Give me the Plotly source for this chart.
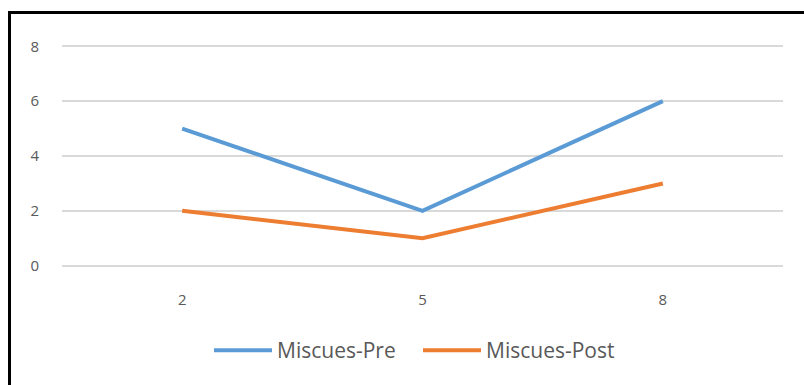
import plotly.graph_objects as go

# Data
categories = ["2", "5", "8"]
miscues_pre = [5, 2, 6]
miscues_post = [2, 1, 3]
y_ticks = [0, 2, 4, 6, 8]

W, H = 804, 385
# pixel positions of the value axis ends (y=0 and y=8) and the category band edges
Y0_PX, Y8_PX = 266, 46
X_LEFT, X_RIGHT = 62, 783
PAD = 0.12  # padding so the 0 and 8 gridlines are drawn

px_per_unit = (Y0_PX - Y8_PX) / 8.0
T = Y8_PX - PAD * px_per_unit
B = H - (Y0_PX + PAD * px_per_unit)
L, R = X_LEFT, W - X_RIGHT
plot_w = W - L - R
plot_h = H - T - B

fig = go.Figure()
fig.add_trace(go.Scatter(
    x=categories, y=miscues_pre, name="Miscues-Pre", mode="lines",
    line=dict(color="#5B9BD5", width=4),
))
fig.add_trace(go.Scatter(
    x=categories, y=miscues_post, name="Miscues-Post", mode="lines",
    line=dict(color="#ED7D31", width=4),
))

def px_x(p):
    return (p - L) / plot_w

def px_y(p):
    return (H - B - p) / plot_h

# Frame drawn on the left and top edges
fig.add_shape(type="line", xref="paper", yref="paper",
              x0=px_x(9.5), x1=px_x(9.5), y0=px_y(12), y1=px_y(H + 5),
              line=dict(color="black", width=3))
fig.add_shape(type="line", xref="paper", yref="paper",
              x0=px_x(8), x1=px_x(W + 5), y0=px_y(12), y1=px_y(12),
              line=dict(color="black", width=3))

fig.update_layout(
    width=W, height=H,
    margin=dict(l=L, r=R, t=T, b=B),
    paper_bgcolor="white", plot_bgcolor="white",
    font=dict(family="Open Sans, Noto Sans, sans-serif", size=15, color="#595959"),
    showlegend=True,
    legend=dict(orientation="h", x=px_x(209), xanchor="left", y=px_y(351), yanchor="middle",
                itemwidth=58, entrywidth=136, entrywidthmode="pixels",
                font=dict(size=21, color="#595959"),
                tracegroupgap=0),
    xaxis=dict(type="category", range=[-0.5, 2.5], showgrid=False, zeroline=False,
               showline=False, ticks="", ticklabelstandoff=20, fixedrange=True),
    yaxis=dict(range=[-PAD, 8 + PAD], tickvals=y_ticks, showgrid=True, gridcolor="#D9D9D9",
               gridwidth=1.5, zeroline=False, showline=False, ticks="",
               ticklabelstandoff=22, fixedrange=True),
)

fig.write_html("out.html")
